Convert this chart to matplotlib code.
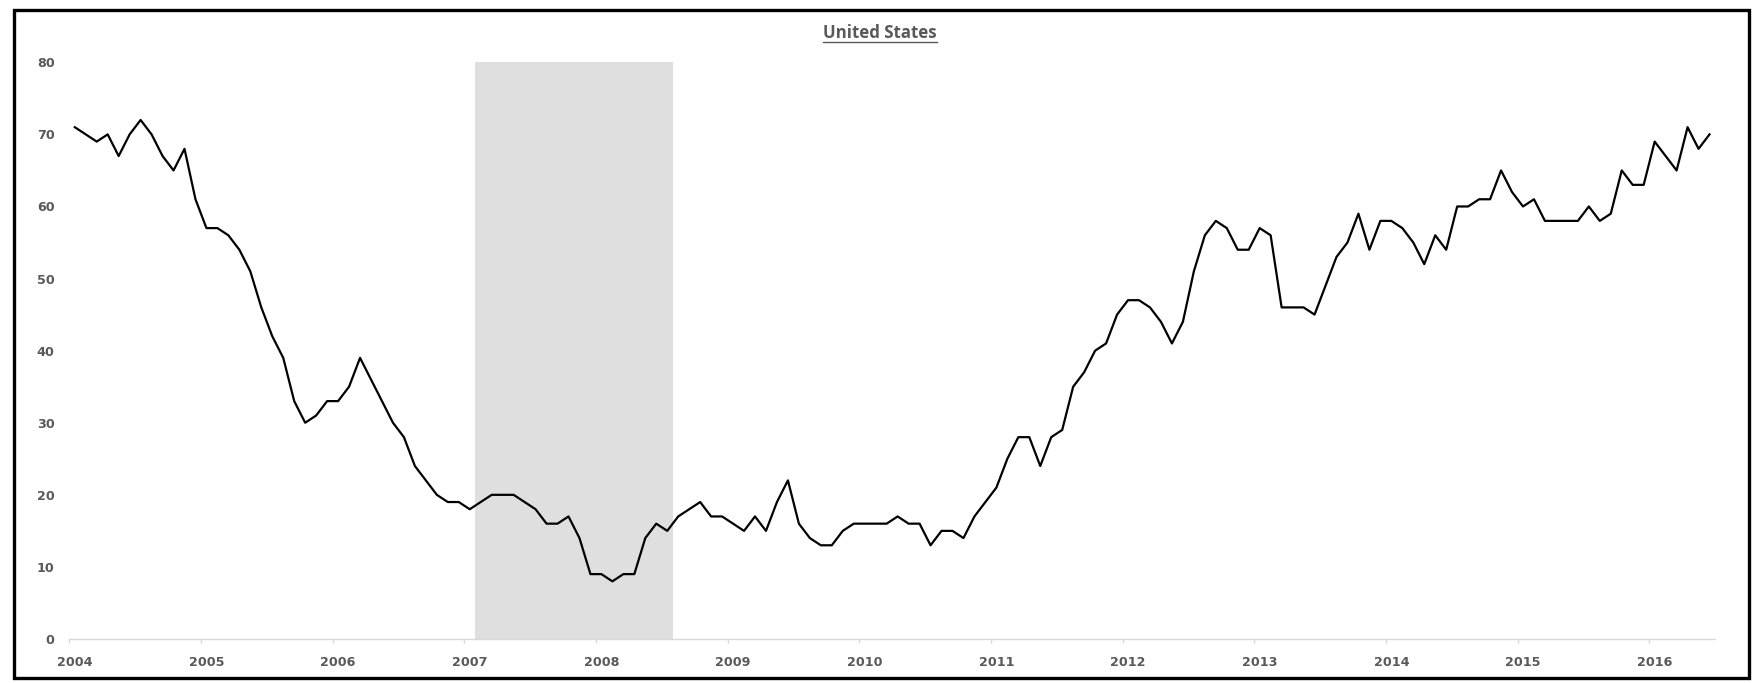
import numpy as np
import matplotlib
matplotlib.use("Agg")
import matplotlib.pyplot as plt
from matplotlib.patches import Rectangle
from matplotlib.lines import Line2D
import matplotlib.transforms as mtransforms

# ---------------- data ----------------
title = "United States"
start_year = 2004
values_2004 = [71, 70, 69, 70, 67, 70, 72, 70, 67, 65, 68, 61]
values_2005 = [57, 57, 56, 54, 51, 46, 42, 39, 33, 30, 31, 33]
values_2006 = [33, 35, 39, 36, 33, 30, 28, 24, 22, 20, 19, 19]
values_2007 = [18, 19, 20, 20, 20, 19, 18, 16, 16, 17, 14, 9]
values_2008 = [9, 8, 9, 9, 14, 16, 15, 17, 18, 19, 17, 17]
values_2009 = [16, 15, 17, 15, 19, 22, 16, 14, 13, 13, 15, 16]
values_2010 = [16, 16, 16, 17, 16, 16, 13, 15, 15, 14, 17, 19]
values_2011 = [21, 25, 28, 28, 24, 28, 29, 35, 37, 40, 41, 45]
values_2012 = [47, 47, 46, 44, 41, 44, 51, 56, 58, 57, 54, 54]
values_2013 = [57, 56, 46, 46, 46, 45, 49, 53, 55, 59, 54, 58]
values_2014 = [58, 57, 55, 52, 56, 54, 60, 60, 61, 61, 65, 62]
values_2015 = [60, 61, 58, 58, 58, 58, 60, 58, 59, 65, 63, 63]
values_2016 = [69, 67, 65, 71, 68, 70]
values = (values_2004 + values_2005 + values_2006 + values_2007 + values_2008 +
          values_2009 + values_2010 + values_2011 + values_2012 + values_2013 +
          values_2014 + values_2015 + values_2016)
tick_years = list(range(2004, 2017))
tick_labels = [str(y) for y in tick_years]
y_ticks = list(range(0, 81, 10))
shade_start = 2007 + 1 / 12
shade_end = 2008 + 7 / 12

# ---------------- figure ----------------
W, H = 1761, 683
fig = plt.figure(figsize=(W / 100, H / 100), dpi=100)
ax_left, ax_right, ax_bottom, ax_top = 69.3, 1715, 639, 62.3
ax = fig.add_axes([ax_left / W, 1 - ax_bottom / H, (ax_right - ax_left) / W,
                   (ax_bottom - ax_top) / H])

x = start_year + (np.arange(len(values)) + 0.5) / 12
ax.axvspan(shade_start, shade_end, color="#dfdfdf", lw=0, zorder=0)
ax.plot(x, values, color="black", lw=1.6, zorder=3)

ax.set_xlim(2004, 2016.5)
ax.set_ylim(0, 80)
ax.set_xticks(tick_years)
ax.set_xticklabels(tick_labels)
ax.set_yticks(y_ticks)

for s in ["top", "right", "left"]:
    ax.spines[s].set_visible(False)
ax.spines["bottom"].set_color("#d9d9d9")
ax.spines["bottom"].set_linewidth(1.0)

label_color = "#595959"
ax.tick_params(axis="x", length=3, width=1, color="#d9d9d9", pad=9,
               labelsize=9.2, labelcolor=label_color)
ax.tick_params(axis="y", length=0, pad=10.5, labelsize=9.2, labelcolor=label_color)
for lab in ax.get_xticklabels() + ax.get_yticklabels():
    lab.set_fontweight("bold")
    lab.set_fontfamily("DejaVu Sans")

offset = mtransforms.ScaledTranslation(5.5 / 100, 0, fig.dpi_scale_trans)
for lab in ax.get_xticklabels():
    lab.set_transform(lab.get_transform() + offset)

# title with underline
t = fig.text(880 / W, 1 - 32.5 / H, title, ha="center", va="center",
             fontsize=12.2, fontweight="bold", color=label_color,
             family=["Open Sans", "DejaVu Sans"])
fig.canvas.draw()
bb = t.get_window_extent(renderer=fig.canvas.get_renderer())
uy = (H - 42) / H
fig.add_artist(Line2D([bb.x0 / W, bb.x1 / W], [uy, uy], transform=fig.transFigure,
                      color=label_color, lw=1.0))

# outer frame
fl, fr, ft, fb = 14.3, 1749.3, 9.7, 677.7
fig.add_artist(Rectangle((fl / W, 1 - fb / H), (fr - fl) / W, (fb - ft) / H,
                         transform=fig.transFigure, fill=False,
                         edgecolor="black", lw=2.4))

fig.savefig("out.png", dpi=100)
